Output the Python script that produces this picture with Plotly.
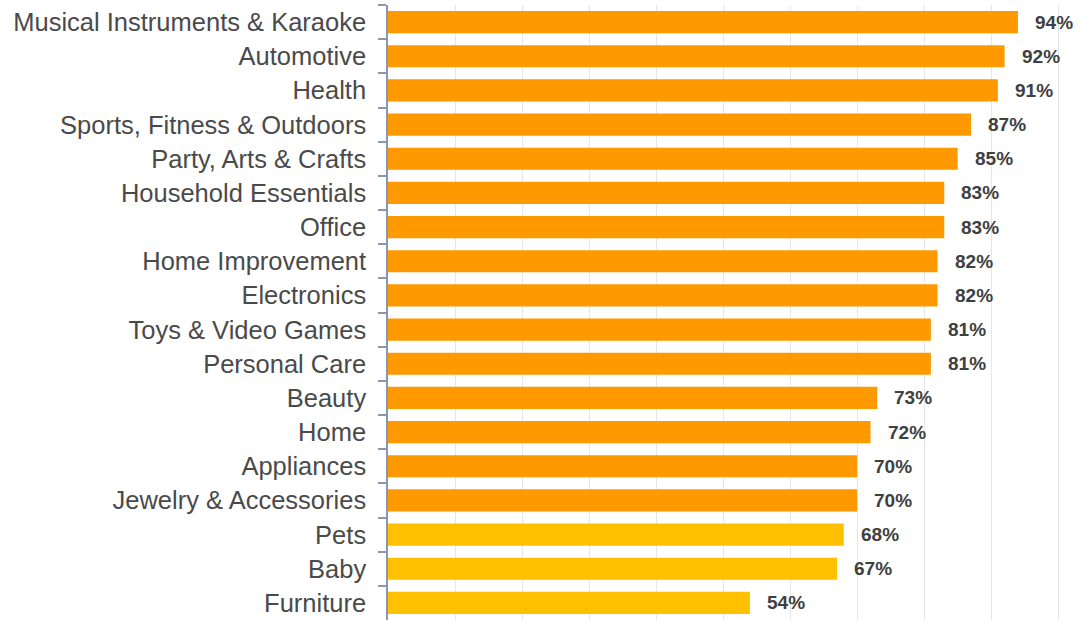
import plotly.graph_objects as go

categories = [
    "Musical Instruments & Karaoke", "Automotive", "Health", "Sports, Fitness & Outdoors",
    "Party, Arts & Crafts", "Household Essentials", "Office", "Home Improvement",
    "Electronics", "Toys & Video Games", "Personal Care", "Beauty", "Home",
    "Appliances", "Jewelry & Accessories", "Pets", "Baby", "Furniture",
]
values = [94, 92, 91, 87, 85, 83, 83, 82, 82, 81, 81, 73, 72, 70, 70, 68, 67, 54]
labels = [f"{v}%" for v in values]
orange_count = 15

colors = ["#FF9900"] * orange_count + ["#FFC000"] * (len(values) - orange_count)
FONT = "Liberation Sans, Arial, sans-serif"

fig = go.Figure()
fig.add_trace(go.Bar(
    x=values, y=categories, orientation="h",
    marker=dict(color=colors, line=dict(width=0)),
    hoverinfo="skip",
))

for c, v, t in zip(categories, values, labels):
    fig.add_annotation(
        x=v, y=c, text=f"<b>{t}</b>", showarrow=False,
        xanchor="left", yanchor="middle", xshift=15,
        font=dict(family=FONT, size=19, color="#404040"),
    )

fig.update_layout(
    width=1085, height=620,
    margin=dict(l=388, r=0, t=5, b=0, autoexpand=False),
    paper_bgcolor="white", plot_bgcolor="white",
    bargap=0.35,
    showlegend=False,
    font=dict(family=FONT, color="#404040"),
)
fig.update_xaxes(
    range=[0, 104], showticklabels=False, ticks="",
    showgrid=True, gridcolor="#e6e6e6", gridwidth=1, dtick=10, tick0=0,
    zeroline=False, showline=False, automargin=False,
)
fig.update_yaxes(
    categoryorder="array", categoryarray=categories, autorange="reversed",
    showline=True, linecolor="#8c96b0", linewidth=1.5,
    ticks="outside", tickson="boundaries", ticklen=8, tickcolor="#8c96b0", tickwidth=1.5,
    tickfont=dict(family=FONT, size=25.5, color="#4a4a4a"),
    ticklabelstandoff=15, automargin=False,
    showgrid=False,
)

fig.write_html(
    "out.html",
    config={"displayModeBar": False},
    post_script="document.body.style.margin='0';document.body.style.overflow='hidden';",
)
